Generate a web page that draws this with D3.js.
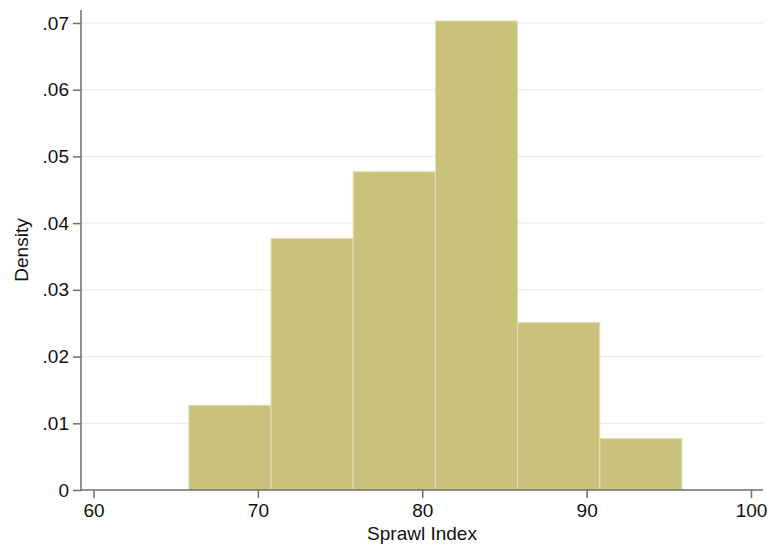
<!DOCTYPE html>
<html>
<head>
<meta charset="utf-8">
<script src="https://cdn.jsdelivr.net/npm/d3@7"></script>
<style>
  body { margin: 0; background: #fff; }
  svg { display: block; font-family: "Liberation Sans", Arial, Helvetica, sans-serif; }
</style>
</head>
<body>
<div id="chart"></div>
<script>
// ── Data ────────────────────────────────────────────────────────────────
const binStarts = [65.8, 70.8, 75.8, 80.8, 85.8, 90.8];
const binWidth = 5;
const densities = [0.0127, 0.0377, 0.0477, 0.0703, 0.0251, 0.0077];
const xTicks = [60, 70, 80, 90, 100];
const yTicks = [0, 0.01, 0.02, 0.03, 0.04, 0.05, 0.06, 0.07];
const yTickLabels = ["0", ".01", ".02", ".03", ".04", ".05", ".06", ".07"];

// ── Palette ─────────────────────────────────────────────────────────────
const BAR = "#c8c27b";
const BAR_EDGE = "#e2deb4";
const GRID = "#ececec";
const AXIS = "#6e6e6e";
const TEXT = "#111";
const FONT = "19px";

const W = 769, H = 547;
const svg = d3.select("#chart").append("svg")
  .attr("width", W).attr("height", H);

const x = d3.scaleLinear().domain([60, 100]).range([93.5, 751]);
const y = d3.scaleLinear().domain([0, 0.07]).range([490, 23]);
const plotLeft = 81, plotRight = 763, plotTop = 10;

// Grid lines
svg.append("g").selectAll("line").data(yTicks.slice(1)).enter().append("line")
  .attr("x1", plotLeft).attr("x2", plotRight)
  .attr("y1", d => y(d)).attr("y2", d => y(d))
  .attr("stroke", GRID).attr("stroke-width", 1.2);

// Bars
svg.append("g").selectAll("rect").data(densities).enter().append("rect")
  .attr("x", (d, i) => x(binStarts[i]))
  .attr("y", d => y(d))
  .attr("width", (d, i) => x(binStarts[i] + binWidth) - x(binStarts[i]))
  .attr("height", d => y(0) - y(d))
  .attr("fill", BAR)
  .attr("stroke", BAR_EDGE).attr("stroke-width", 1);

// Y axis
const yAxis = svg.append("g").attr("transform", `translate(${plotLeft},0)`)
  .call(d3.axisLeft(y).tickValues(yTicks).tickSize(8).tickPadding(4)
    .tickFormat((d, i) => yTickLabels[i]));
yAxis.select(".domain").remove();
yAxis.append("line").attr("x1", 0).attr("x2", 0).attr("y1", plotTop).attr("y2", y(0) + 0.5)
  .attr("stroke", AXIS).attr("stroke-width", 1.5);
yAxis.selectAll(".tick line").attr("stroke", AXIS).attr("stroke-width", 1.5);
yAxis.selectAll("text").attr("fill", TEXT).style("font-size", FONT);

// X axis
const xAxis = svg.append("g").attr("transform", `translate(0,${y(0)})`)
  .call(d3.axisBottom(x).tickValues(xTicks).tickSize(8).tickPadding(6)
    .tickFormat(d3.format("d")));
xAxis.select(".domain").remove();
xAxis.append("line").attr("x1", plotLeft - 0.5).attr("x2", plotRight).attr("y1", 0).attr("y2", 0)
  .attr("stroke", AXIS).attr("stroke-width", 1.5);
xAxis.selectAll(".tick line").attr("stroke", AXIS).attr("stroke-width", 1.5);
xAxis.selectAll("text").attr("fill", TEXT).style("font-size", FONT);

// Axis titles
svg.append("text")
  .attr("x", (plotLeft + plotRight) / 2).attr("y", 540)
  .attr("text-anchor", "middle").attr("fill", TEXT)
  .style("font-size", FONT).text("Sprawl Index");

svg.append("text")
  .attr("transform", `translate(28,${(plotTop + y(0)) / 2}) rotate(-90)`)
  .attr("text-anchor", "middle").attr("fill", TEXT)
  .style("font-size", FONT).text("Density");
</script>
</body>
</html>
